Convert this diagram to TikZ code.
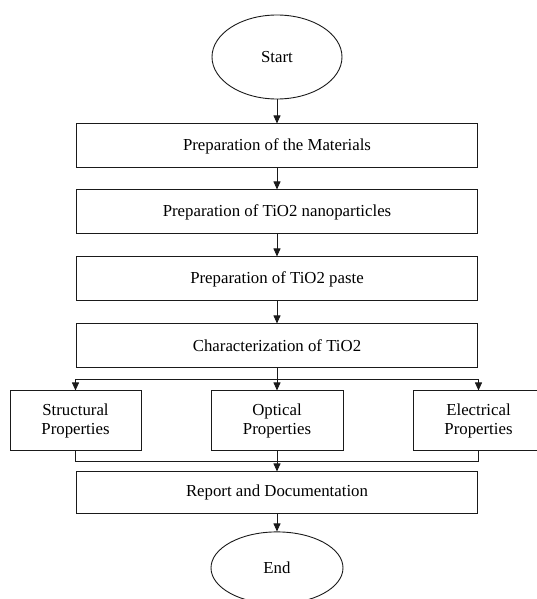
\documentclass[tikz,border=0pt]{standalone}
\usepackage{fontspec}
\setmainfont{Liberation Serif}
\usepackage{xcolor}
\usepackage{tikz}
\usetikzlibrary{arrows.meta,positioning,shapes.geometric,calc}
\definecolor{ink}{HTML}{1A1A1A}

\begin{document}
\begin{tikzpicture}[
    x=1pt, y=1pt,
    node distance=22pt and 69pt,
    font=\fontsize{16.8}{19}\selectfont,
    terminal/.style={
      ellipse,
      draw=ink,
      line width=0.9pt,
      inner sep=0pt,
      minimum width=130pt,
      minimum height=84pt
    },
    stagebox/.style={
      draw=ink,
      line width=1pt,
      inner sep=0pt,
      minimum width=401pt,
      minimum height=44pt,
      align=center
    },
    propbox/.style={
      draw=ink,
      line width=1pt,
      inner sep=0pt,
      minimum width=131pt,
      minimum height=60pt,
      align=center
    },
    arrow/.style={-{Triangle[length=8pt,width=7pt]}, line width=0.9pt, draw=ink},
    link/.style={line width=0.9pt, draw=ink}
  ]
    \useasboundingbox (0,0) rectangle (536,-599);

    \node[terminal] (start) at (277,-57) {Start};
    \node[stagebox, below=24pt of start] (materials) {Preparation of the Materials};
    \node[stagebox, below=21pt of materials] (nano) {Preparation of TiO2 nanoparticles};
    \node[stagebox, below=of nano] (paste) {Preparation of TiO2 paste};
    \node[stagebox, below=of paste] (charac) {Characterization of TiO2};

    \node[propbox, minimum width=132pt, below=of charac] (optical) {Optical\\Properties};
    \node[propbox, left=of optical] (structural) {Structural\\Properties};
    \node[propbox, right=of optical] (electrical) {Electrical\\Properties};

    \node[stagebox, minimum height=42pt, below=20pt of optical] (report) {Report and Documentation};
    \node[terminal, minimum width=132pt, minimum height=72pt, below=17pt of report] (finish) {End};

    % split and merge rails
    \coordinate (split) at ($(charac.south)!0.5!(optical.north)$);
    \coordinate (merge) at ($(optical.south)!0.5!(report.north)$);

    \draw[arrow] (start) -- (materials);
    \draw[arrow] (materials) -- (nano);
    \draw[arrow] (nano) -- (paste);
    \draw[arrow] (paste) -- (charac);

    \draw[arrow] (charac) -- (optical);
    \draw[link] (split -| structural) -- (split -| electrical);
    \draw[arrow] (split -| structural) -- (structural);
    \draw[arrow] (split -| electrical) -- (electrical);

    \draw[link] (structural) -- (merge -| structural) -- (merge -| electrical) -- (electrical);
    \draw[arrow] (optical) -- (report);
    \draw[arrow] (report) -- (finish);
  \end{tikzpicture}
\end{document}
